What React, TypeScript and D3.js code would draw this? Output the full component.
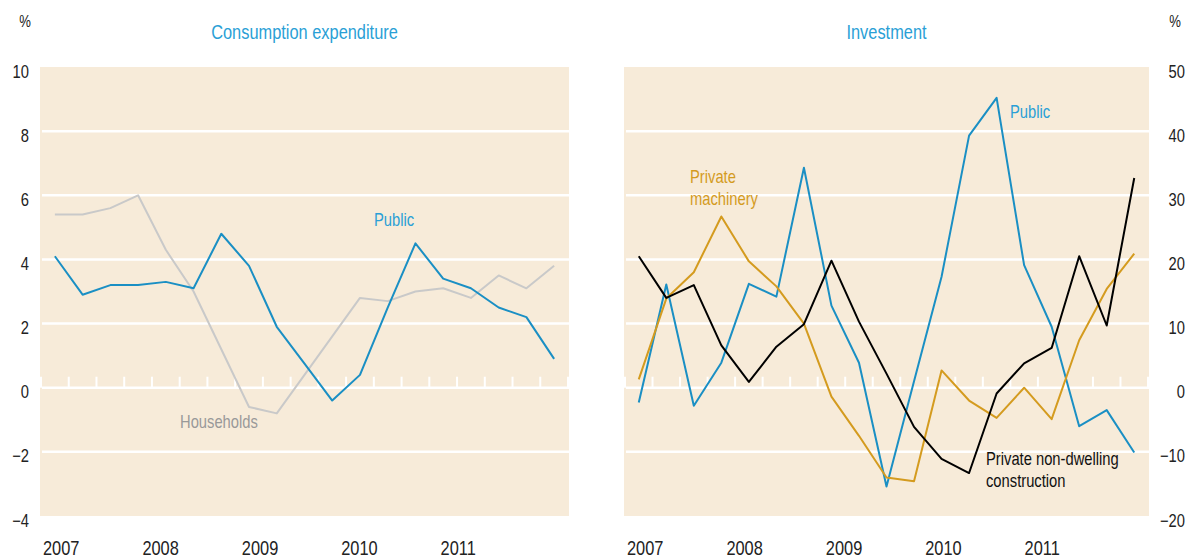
import * as d3 from 'd3'
import React, { useRef, useEffect } from 'react'

// quarterly data, 2007Q1 .. 2011Q3 (year-ended growth, %)
const quarters = ['2007Q1', '2007Q2', '2007Q3', '2007Q4', '2008Q1', '2008Q2', '2008Q3', '2008Q4',
  '2009Q1', '2009Q2', '2009Q3', '2009Q4', '2010Q1', '2010Q2', '2010Q3', '2010Q4',
  '2011Q1', '2011Q2', '2011Q3']
const years = ['2007', '2008', '2009', '2010', '2011']

const consHouseholds = [5.4, 5.4, 5.6, 6.0, 4.3, 3.0, 1.2, -0.6, -0.8, 0.4, 1.6, 2.8, 2.7, 3.0, 3.1, 2.8, 3.5, 3.1, 3.8]
const consPublic = [4.1, 2.9, 3.2, 3.2, 3.3, 3.1, 4.8, 3.8, 1.9, 0.75, -0.4, 0.4, 2.5, 4.5, 3.4, 3.1, 2.5, 2.2, 0.9]

const invPublic = [-2.3, 16.1, -2.8, 3.9, 16.2, 14.2, 34.3, 12.8, 3.9, -15.4, 1.0, 17.3, 39.3, 45.2, 19.1, 9.5, -6.0, -3.5, -10.1]
const invMachinery = [1.3, 13.9, 18.0, 26.7, 19.7, 15.8, 10.0, -1.4, -7.5, -14.0, -14.6, 2.7, -2.0, -4.7, 0.0, -4.9, 7.4, 15.4, 20.9]
const invConstruction = [20.5, 14.0, 16.0, 6.6, 0.9, 6.4, 9.9, 19.8, 10.3, 2.2, -6.1, -11.1, -13.3, -0.9, 3.8, 6.2, 20.5, 9.7, 32.7]

const leftTicks = [10, 8, 6, 4, 2, 0, -2, -4]
const rightTicks = [50, 40, 30, 20, 10, 0, -10, -20]

// no narrow font installed, so Liberation Sans squeezed horizontally
const FONT = '"Liberation Sans", Arial, sans-serif'
const NARROW = 0.82
const BG = '#f7ebd9'
const BLUE = '#1a8fc4'
const TITLE_BLUE = '#2a9fd6'
const GOLD = '#d49b1f'

const W = 1188
const H = 559

const addText = (g, x, y, lines, size, color, anchor = 'start', baseline = 'auto') => {
  const t = g.append('text')
    .attr('transform', 'translate(' + x + ',' + y + ') scale(' + NARROW + ',1)')
    .attr('text-anchor', anchor)
    .attr('dominant-baseline', baseline)
    .style('font-family', FONT).style('font-size', size + 'px')
    .attr('fill', color)
  ;[].concat(lines).forEach((s, i) => {
    t.append('tspan').attr('x', 0).attr('dy', i === 0 ? 0 : 22.5).text(s)
  })
  return t
}

const App = () => {
  const myRef = useRef(null)

  useEffect(() => {
    const svg = d3.select(myRef.current)
    svg.selectAll('*').remove()

    const top = 67, bottom = 516

    const drawPanel = (p) => {
      const g = svg.append('g')
      const x = d3.scaleLinear().domain([0, quarters.length]).range([p.x0 + 1, p.x1 - 1])
      const y = d3.scaleLinear().domain(p.domain).range([bottom, top])

      g.append('rect')
        .attr('x', p.x0).attr('y', top)
        .attr('width', p.x1 - p.x0).attr('height', bottom - top)
        .attr('fill', BG)

      // horizontal grid
      g.selectAll('.grid')
        .data(p.ticks.filter(t => t !== p.domain[0] && t !== p.domain[1]))
        .enter().append('line')
        .attr('x1', p.x0 + 2).attr('x2', p.x1)
        .attr('y1', d => y(d)).attr('y2', d => y(d))
        .attr('stroke', '#fff').attr('stroke-width', 2.5)

      // quarter ticks on zero line
      g.selectAll('.qtick')
        .data(d3.range(quarters.length + 1))
        .enter().append('line')
        .attr('x1', d => x(d)).attr('x2', d => x(d))
        .attr('y1', y(0)).attr('y2', y(0) - 11)
        .attr('stroke', '#fff').attr('stroke-width', 2)

      // y labels
      p.ticks.forEach(d => {
        addText(g, p.labelX, y(d) + 4, d < 0 ? '\u2212' + Math.abs(d) : String(d), 18, '#222', 'end', 'central')
      })
      addText(g, p.pctX, 22, '%', 16, '#222', 'middle', 'central')

      // year labels
      const yx = d3.scaleLinear().domain([0, 4]).range([p.x0 + 3, p.x0 + 3 + 4 * 99.4])
      years.forEach((d, i) => addText(g, yx(i), 555, d, 20, '#222'))

      addText(g, (p.x0 + p.x1) / 2, 31, p.title, 20, TITLE_BLUE, 'middle', 'central')

      const line = d3.line()
        .x((d, i) => x(i + 0.5))
        .y(d => y(d))

      p.series.forEach(s => {
        g.append('path')
          .datum(s.values)
          .attr('d', line)
          .attr('fill', 'none')
          .attr('stroke', s.color)
          .attr('stroke-width', 2)
          .attr('stroke-linejoin', 'round')
      })

      p.labels.forEach(l => addText(g, l.x, l.y, l.lines, 18, l.color))
    }

    drawPanel({
      x0: 40, x1: 569, domain: [-4, 10], ticks: leftTicks,
      labelX: 29, pctX: 25, title: 'Consumption expenditure',
      series: [
        { values: consHouseholds, color: '#c9c9c9' },
        { values: consPublic, color: BLUE },
      ],
      labels: [
        { x: 374, y: 226, lines: ['Public'], color: TITLE_BLUE },
        { x: 180, y: 428, lines: ['Households'], color: '#999' },
      ],
    })

    drawPanel({
      x0: 624, x1: 1149, domain: [-20, 50], ticks: rightTicks,
      labelX: 1185, pctX: 1175, title: 'Investment',
      series: [
        { values: invPublic, color: BLUE },
        { values: invMachinery, color: GOLD },
        { values: invConstruction, color: '#000' },
      ],
      labels: [
        { x: 1010, y: 118, lines: ['Public'], color: TITLE_BLUE },
        { x: 690, y: 183, lines: ['Private', 'machinery'], color: GOLD },
        { x: 986, y: 465, lines: ['Private non-dwelling', 'construction'], color: '#111' },
      ],
    })
  }, [])

  return (
    <svg ref={myRef} width={W} height={H}
      style={{ position: 'absolute', left: 0, top: 0, background: '#fff' }} />
  )
}

export default App
